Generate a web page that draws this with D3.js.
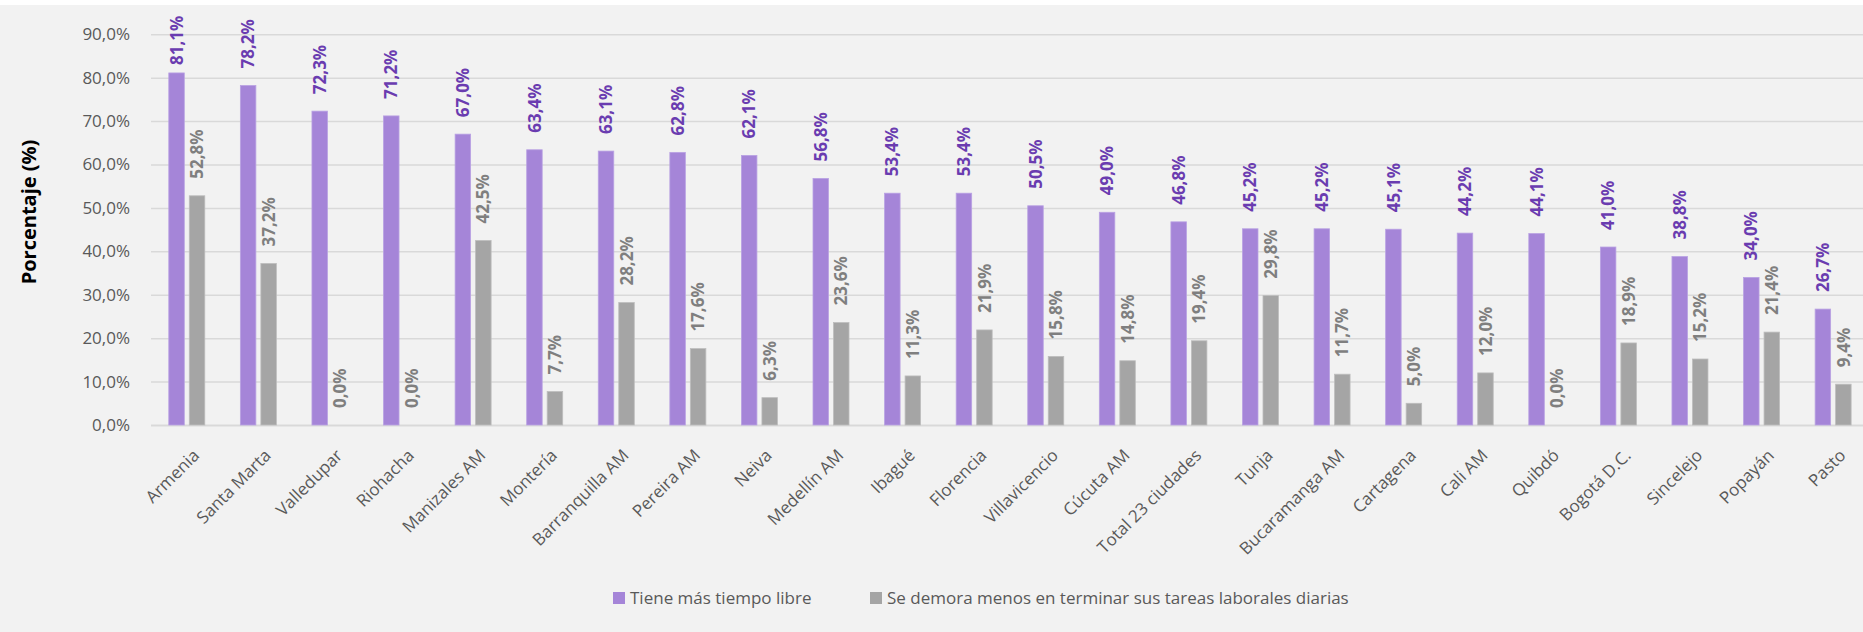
<!DOCTYPE html>
<html><head><meta charset="utf-8">
<script src="https://cdn.jsdelivr.net/npm/d3@7"></script>
<style>
html,body{margin:0;padding:0;background:#fff;}
svg{display:block;}
</style></head>
<body>
<svg id="chart" width="1863" height="632"></svg>
<script>
const categories = ["Armenia","Santa Marta","Valledupar","Riohacha","Manizales AM","Montería","Barranquilla AM","Pereira AM","Neiva","Medellín AM","Ibagué","Florencia","Villavicencio","Cúcuta AM","Total 23 ciudades","Tunja","Bucaramanga AM","Cartagena","Cali AM","Quibdó","Bogotá D.C.","Sincelejo","Popayán","Pasto"];
const seriesNames = ["Tiene más tiempo libre","Se demora menos en terminar sus tareas laborales diarias"];
const tiempoLibre = [81.1,78.2,72.3,71.2,67.0,63.4,63.1,62.8,62.1,56.8,53.4,53.4,50.5,49.0,46.8,45.2,45.2,45.1,44.2,44.1,41.0,38.8,34.0,26.7];
const demoraMenos = [52.8,37.2,0.0,0.0,42.5,7.7,28.2,17.6,6.3,23.6,11.3,21.9,15.8,14.8,19.4,29.8,11.7,5.0,12.0,0.0,18.9,15.2,21.4,9.4];
const yTicks = [0,10,20,30,40,50,60,70,80,90];

const colors = ["#a585d8","#a5a5a5"];
const strokes = ["#b9a2e3","#bdbdbd"];
const labelColors = ["#6a3cb0","#7f7f7f"];
const FONT = "'Open Sans', 'Noto Sans', sans-serif";

const svg = d3.select("#chart");
svg.append("rect").attr("x",0).attr("y",5).attr("width",1863).attr("height",627).attr("fill","#f2f2f2");

const plotLeft = 151, step = 71.58;
const x0 = d3.scaleBand().domain(categories).range([plotLeft, plotLeft + step*categories.length]).paddingInner(0).paddingOuter(0);
const groupW = 36;
const x1 = d3.scaleBand().domain([0,1]).range([(step-groupW)/2, (step+groupW)/2]).paddingInner(5/20.5).paddingOuter(0);
const y = d3.scaleLinear().domain([0,90]).range([425,34.3]);

// gridlines
const yAxis = d3.axisLeft(y).tickValues(yTicks).tickSize(-(1863-plotLeft)).tickFormat(d => d.toFixed(1).replace(".",",") + "%");
const gy = svg.append("g").attr("transform",`translate(${plotLeft},0)`).call(yAxis);
gy.select(".domain").remove();
gy.selectAll(".tick line").attr("stroke","#d9d9d9").attr("stroke-width",1.5);
gy.selectAll(".tick text").attr("x",-21).attr("font-family",FONT).attr("font-size",17).attr("fill","#595959");
gy.selectAll(".tick").filter(d=>d===0).select("line").attr("stroke-width",2);

const data = categories.map((c,i)=>({c, v:[tiempoLibre[i], demoraMenos[i]]}));

const groups = svg.append("g").selectAll("g").data(data).join("g")
  .attr("transform", d=>`translate(${x0(d.c)},0)`);

groups.selectAll("rect").data(d=>d.v.map((v,s)=>({v,s}))).join("rect")
  .attr("x", d=>x1(d.s)).attr("width", x1.bandwidth())
  .attr("y", d=>y(d.v)).attr("height", d=>y(0)-y(d.v))
  .attr("fill", d=>colors[d.s])
  .attr("stroke", d=>d.v>0?strokes[d.s]:"none").attr("stroke-width",0.8);

// data labels (rotated)
const labelGap = 17, labelLen = 51, topLimit = 14;
groups.selectAll("text.lbl").data(d=>d.v.map((v,s)=>({v,s}))).join("text")
  .attr("class","lbl")
  .attr("transform", d=>{
    const cx = x1(d.s) + x1.bandwidth()/2;
    let yb = y(d.v) - labelGap;
    if (yb - labelLen < topLimit) yb = topLimit + labelLen;
    return `translate(${cx},${yb}) rotate(-90)`;
  })
  .attr("dy","0.36em")
  .attr("text-anchor","start")
  .attr("font-family",FONT).attr("font-size",17).attr("font-weight","bold")
  .attr("fill", d=>labelColors[d.s])
  .text(d=>d.v.toFixed(1).replace(".",",")+"%");

// x axis labels
svg.append("g").selectAll("text").data(categories).join("text")
  .attr("transform", c=>`translate(${x0(c)+step/2+5},${448}) rotate(-45)`)
  .attr("text-anchor","end")
  .attr("dy","0.71em")
  .attr("font-family",FONT).attr("font-size",17).attr("fill","#595959")
  .text(c=>c);

// y title
svg.append("text")
  .attr("transform","translate(29,212) rotate(-90)")
  .attr("text-anchor","middle").attr("dy","0.35em")
  .attr("font-family",FONT).attr("font-size",20).attr("font-weight","bold").attr("fill","#000")
  .text("Porcentaje (%)");

// legend
const legendItems = [{x:613, s:0},{x:870, s:1}];
const lg = svg.append("g").selectAll("g").data(legendItems).join("g")
  .attr("transform", d=>`translate(${d.x},598)`);
lg.append("rect").attr("x",0).attr("y",-6).attr("width",12).attr("height",12).attr("fill",d=>colors[d.s]);
lg.append("text").attr("x",17).attr("dy","0.35em")
  .attr("font-family",FONT).attr("font-size",17).attr("fill","#595959")
  .text(d=>seriesNames[d.s]);
</script>
</body></html>
